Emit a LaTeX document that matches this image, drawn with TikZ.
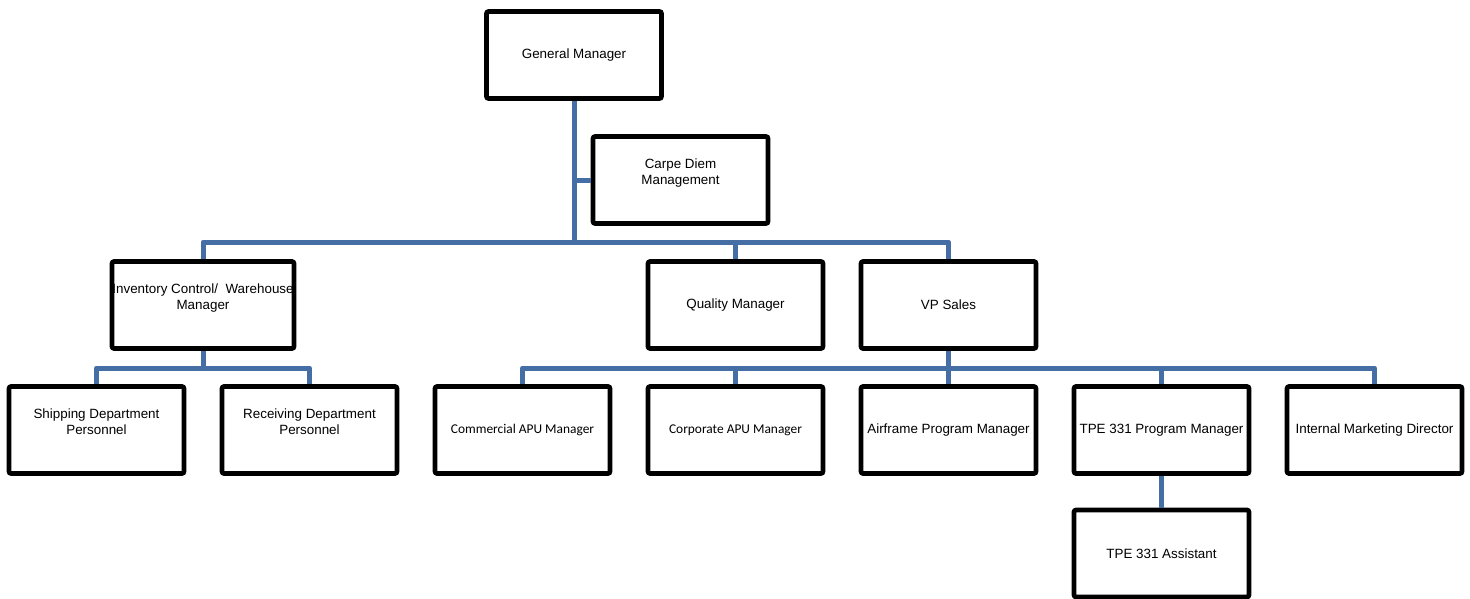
\documentclass[tikz,border=0pt]{standalone}
\usepackage{fontspec}
\setmainfont{Liberation Sans}
\newfontfamily\calfont{Carlito}
\definecolor{linkblue}{RGB}{68,110,164}
\begin{document}
\begin{tikzpicture}[x=1pt,y=-1pt,
  box/.style={draw=black,line width=4.6pt,rounded corners=2pt,fill=white,
    minimum width=175pt,minimum height=87pt,inner sep=0pt,align=center,
    font=\fontsize{13.4}{16}\selectfont},
  link/.style={draw=linkblue,line width=5pt,line join=round}]
\useasboundingbox (0,0) rectangle (1470,599);
% boxes
\node[box] (gm) at (574,55) {General Manager};
\node[box] (carpe) at (680.5,180) {Carpe Diem\\Management\\~};
\node[box,minimum width=182pt] (inv) at (203,305) {Inventory Control/\ \ Warehouse\\Manager\\~};
\node[box] (qual) at (735.5,305) {Quality Manager};
\node[box] (vp) at (948.5,305) {VP Sales};
\node[box] (ship) at (96.5,430) {Shipping Department\\Personnel\\~};
\node[box] (recv) at (309.5,430) {Receiving Department\\Personnel\\~};
\node[box] (comm) at (522.5,430) {\calfont Commercial APU Manager};
\node[box] (corp) at (735.5,430) {\calfont Corporate APU Manager};
\node[box] (air) at (948.5,430) {Airframe Program Manager};
\node[box] (tpe) at (1161.5,430) {TPE 331 Program Manager};
\node[box] (imd) at (1374.5,430) {Internal Marketing Director};
\node[box] (asst) at (1161.5,553.5) {TPE 331 Assistant};
% bus points
\coordinate (b1) at (574,242);
\coordinate (b2) at (203,368);
\coordinate (b3) at (948.5,368);
% connectors
\draw[link] (gm.south) -- (b1);
\draw[link] (gm.south |- carpe.west) -- (carpe.west);
\draw[link] (inv.north) |- (b1) -| (vp.north);
\draw[link] (qual.north) -- (qual.north |- b1);
\draw[link] (inv.south) -- (b2);
\draw[link] (ship.north) |- (b2) -| (recv.north);
\draw[link] (vp.south) -- (b3);
\draw[link] (comm.north) |- (b3) -| (imd.north);
\draw[link] (corp.north) -- (corp.north |- b3);
\draw[link] (b3) -- (air.north);
\draw[link] (tpe.north) -- (tpe.north |- b3);
\draw[link] (tpe.south) -- (asst.north);
\end{tikzpicture}
\end{document}
